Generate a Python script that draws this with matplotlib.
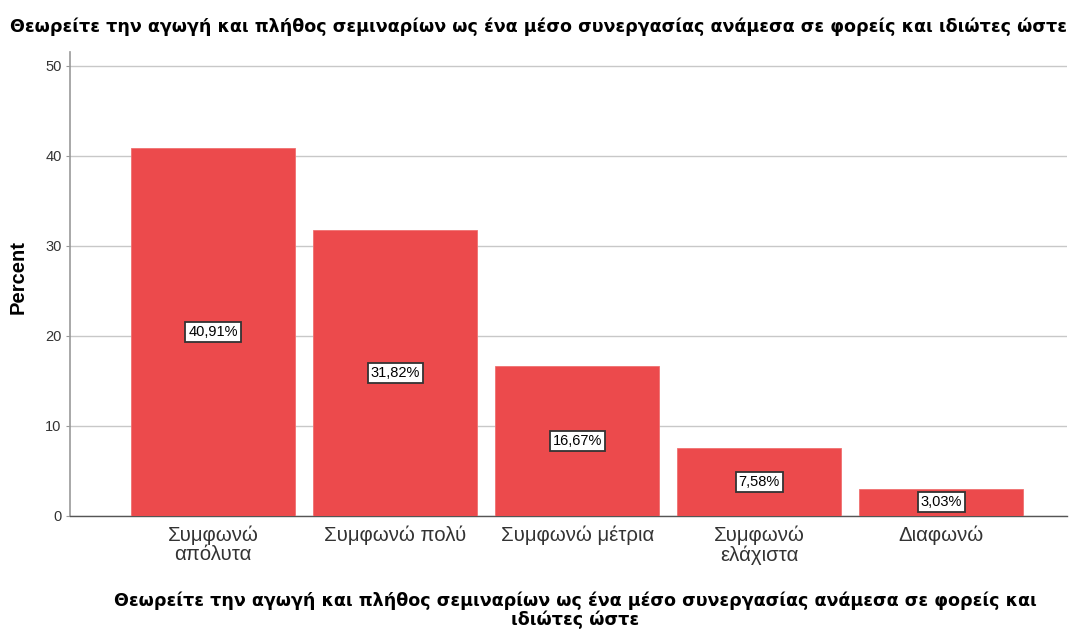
import matplotlib
matplotlib.use("Agg")
import matplotlib.pyplot as plt

plt.rcParams['font.family'] = ['Liberation Sans', 'DejaVu Sans']

categories = ["Συμφωνώ\nαπόλυτα", "Συμφωνώ πολύ", "Συμφωνώ μέτρια", "Συμφωνώ\nελάχιστα", "Διαφωνώ"]
percents = [40.91, 31.82, 16.67, 7.58, 3.03]
labels = ["40,91%", "31,82%", "16,67%", "7,58%", "3,03%"]
yticks = [0, 10, 20, 30, 40, 50]
title = "Θεωρείτε την αγωγή και πλήθος σεμιναρίων ως ένα μέσο συνεργασίας ανάμεσα σε φορείς και ιδιώτες ώστε"
xlabel = "Θεωρείτε την αγωγή και πλήθος σεμιναρίων ως ένα μέσο συνεργασίας ανάμεσα σε φορείς και\nιδιώτες ώστε"

fig = plt.figure(figsize=(10.7, 6.29), dpi=100)
ax = fig.add_axes([0.0654, 0.1797, 0.9318, 0.737])

x = list(range(len(categories)))
bars = ax.bar(x, percents, width=0.9, color="#EC4A4C", edgecolor="#F07070", linewidth=0.6, zorder=3)

for xi, v, lab in zip(x, percents, labels):
    ax.text(xi, v / 2, lab, ha="center", va="center", fontsize=10.5, color="black", zorder=5,
            bbox=dict(boxstyle="square,pad=0.2", facecolor="white", edgecolor="#333333", linewidth=1.3))

ax.set_xlim(-0.786, 4.69)
ax.set_ylim(0, 51.5)
ax.set_yticks(yticks)
ax.yaxis.grid(True, color="#C8C8C8", linewidth=1.0, zorder=0)
ax.set_axisbelow(True)
ax.set_xticks(x)
ax.set_xticklabels(categories, fontsize=14.7, color="#333333", linespacing=1.0)
ax.tick_params(axis="x", length=0, pad=7)
ax.tick_params(axis="y", length=3, width=0.8, color="#999999", labelsize=10.5, labelcolor="#333333", pad=3)

for s in ["top", "right"]:
    ax.spines[s].set_visible(False)
ax.spines["left"].set_color("#999999")
ax.spines["left"].set_linewidth(1.2)
ax.spines["bottom"].set_color("#555555")
ax.spines["bottom"].set_linewidth(1.0)

ax.set_ylabel("Percent", fontsize=14.5, fontweight="bold")
ax.yaxis.set_label_coords(-0.042, 0.515)
fig.text(0.5375, 0.0302, xlabel, ha="center", va="center", fontsize=12.6, fontweight="bold",
         linespacing=1.0, family=["DejaVu Sans"])
fig.text(10 / 1070, 1 - 27 / 629, title, ha="left", va="center", fontsize=12.6, fontweight="bold",
         family=["DejaVu Sans"])

fig.savefig("out.png", dpi=100)
